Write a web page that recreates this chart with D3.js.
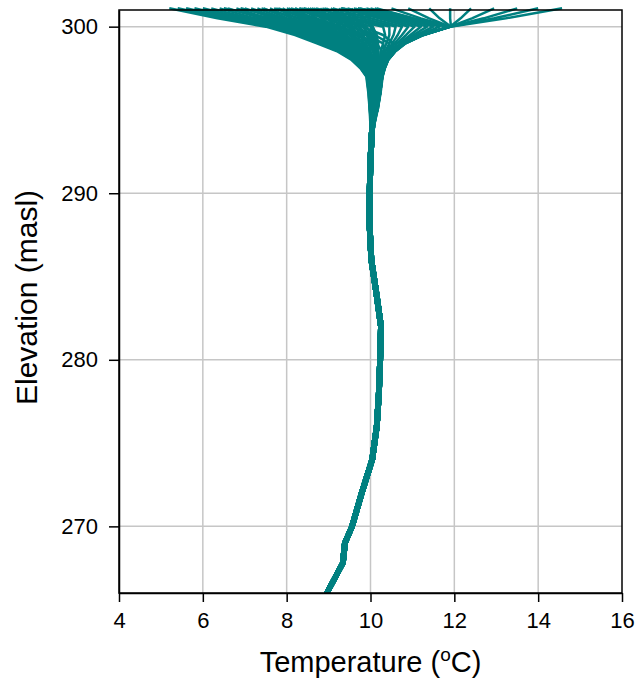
<!DOCTYPE html>
<html>
<head>
<meta charset="utf-8">
<script src="https://cdn.jsdelivr.net/npm/d3@7"></script>
<style>
  body { margin: 0; background: #fff; }
  text { font-family: "Liberation Sans", Arial, sans-serif; fill: #000; }
</style>
</head>
<body>
<div id="chart"></div>
<script>
// elevation levels (masl) for the upper, mixed part of each profile
const upperElev = [301.1, 300.5, 300, 299.5, 299, 298.5, 298, 297.5, 297, 296, 295];

// cold-surface profiles (left part of the fan)
const coldProfiles = [
  [5.2, 6.35, 7.5, 8.2, 8.72, 9.22, 9.55, 9.76, 9.9, 9.95, 9.98],
  [5.4, 6.5, 7.6, 8.28, 8.78, 9.26, 9.57, 9.77, 9.91, 9.96, 9.98],
  [5.6, 6.65, 7.7, 8.35, 8.83, 9.3, 9.6, 9.78, 9.92, 9.96, 9.99],
  [5.8, 6.8, 7.75, 8.4, 8.88, 9.33, 9.62, 9.8, 9.93, 9.97, 9.99],
  [6.0, 6.95, 7.85, 8.47, 8.93, 9.36, 9.64, 9.81, 9.94, 9.97, 10.0],
  [6.2, 7.1, 7.95, 8.55, 8.98, 9.4, 9.66, 9.83, 9.95, 9.98, 10.0],
  [6.4, 7.25, 8.05, 8.6, 9.03, 9.43, 9.68, 9.84, 9.96, 9.99, 10.01],
  [6.6, 7.4, 8.15, 8.68, 9.08, 9.46, 9.7, 9.86, 9.97, 10.0, 10.01],
  [6.8, 7.55, 8.25, 8.75, 9.13, 9.5, 9.72, 9.87, 9.98, 10.01, 10.02],
  [7.0, 7.7, 8.35, 8.82, 9.18, 9.53, 9.74, 9.88, 9.98, 10.02, 10.02],
  [7.15, 7.8, 8.42, 8.88, 9.22, 9.55, 9.76, 9.9, 9.99, 10.02, 10.03],
  [7.3, 7.92, 8.5, 8.94, 9.26, 9.58, 9.78, 9.91, 10.0, 10.03, 10.03],
  [7.45, 8.02, 8.58, 9.0, 9.3, 9.6, 9.8, 9.92, 10.0, 10.04, 10.04],
  [7.6, 8.13, 8.66, 9.06, 9.34, 9.63, 9.82, 9.93, 10.01, 10.04, 10.04],
  [7.75, 8.25, 8.74, 9.11, 9.38, 9.66, 9.84, 9.94, 10.02, 10.05, 10.05],
  [7.9, 8.37, 8.82, 9.16, 9.42, 9.68, 9.85, 9.95, 10.02, 10.05, 10.05],
  [8.05, 8.48, 8.9, 9.22, 9.46, 9.71, 9.87, 9.96, 10.03, 10.06, 10.05],
  [8.2, 8.6, 8.98, 9.27, 9.5, 9.73, 9.88, 9.97, 10.03, 10.06, 10.06],
  [8.35, 8.72, 9.06, 9.32, 9.54, 9.76, 9.9, 9.98, 10.04, 10.07, 10.06],
  [8.5, 8.83, 9.14, 9.38, 9.58, 9.78, 9.91, 9.99, 10.04, 10.07, 10.06],
  [8.65, 8.95, 9.22, 9.44, 9.62, 9.81, 9.93, 10.0, 10.05, 10.08, 10.07],
  [8.8, 9.06, 9.3, 9.5, 9.66, 9.83, 9.94, 10.01, 10.05, 10.08, 10.07],
  [8.95, 9.18, 9.38, 9.56, 9.7, 9.86, 9.96, 10.02, 10.06, 10.09, 10.07],
  [9.1, 9.3, 9.47, 9.62, 9.75, 9.88, 9.97, 10.03, 10.07, 10.09, 10.08],
  [9.25, 9.42, 9.56, 9.68, 9.8, 9.91, 9.99, 10.04, 10.07, 10.1, 10.08],
  [9.4, 9.54, 9.65, 9.75, 9.85, 9.94, 10.01, 10.05, 10.08, 10.1, 10.08],
  [9.55, 9.66, 9.75, 9.83, 9.9, 9.97, 10.03, 10.06, 10.09, 10.1, 10.08],
  [9.7, 9.78, 9.85, 9.92, 9.96, 10.0, 10.05, 10.08, 10.1, 10.1, 10.08]
];

// profiles that warm faster just below the surface
const midProfiles = [
  [6.5, 7.6, 8.5, 9.1, 9.5, 9.8, 9.97, 10.03, 10.05, 10.04, 10.03],
  [6.9, 7.9, 8.7, 9.3, 9.7, 9.95, 10.05, 10.08, 10.08, 10.06, 10.04],
  [7.7, 8.5, 9.1, 9.55, 9.85, 10.0, 10.08, 10.1, 10.1, 10.09, 10.06],
  [8.0, 8.7, 9.3, 9.7, 9.95, 10.06, 10.1, 10.12, 10.12, 10.1, 10.06],
  [8.3, 8.95, 9.45, 9.8, 10.0, 10.1, 10.13, 10.13, 10.13, 10.11, 10.07],
  [8.55, 9.1, 9.6, 9.9, 10.05, 10.12, 10.15, 10.15, 10.14, 10.11, 10.07],
  [8.85, 9.3, 9.7, 9.95, 10.08, 10.14, 10.16, 10.16, 10.15, 10.12, 10.07],
  [9.05, 9.45, 9.8, 10.0, 10.1, 10.15, 10.17, 10.17, 10.15, 10.12, 10.08],
  [9.35, 9.65, 9.9, 10.05, 10.12, 10.16, 10.18, 10.17, 10.16, 10.12, 10.08],
  [9.65, 9.85, 10.0, 10.1, 10.15, 10.18, 10.19, 10.18, 10.16, 10.13, 10.08],
  [9.85, 9.95, 10.05, 10.12, 10.16, 10.19, 10.2, 10.18, 10.17, 10.13, 10.08]
];

// profiles with a warmer layer just under the surface
const warmLayerProfiles = [
  [7.4, 8.3, 9.0, 9.7, 10.15, 10.28, 10.3, 10.28, 10.25, 10.18, 10.12],
  [7.8, 8.6, 9.2, 9.9, 10.3, 10.35, 10.33, 10.3, 10.26, 10.2, 10.14],
  [8.2, 8.9, 9.5, 10.1, 10.45, 10.42, 10.36, 10.31, 10.27, 10.2, 10.14],
  [8.6, 9.2, 9.8, 10.3, 10.55, 10.47, 10.38, 10.32, 10.27, 10.21, 10.15],
  [8.1, 9.0, 9.9, 10.05, 10.1, 10.12, 10.13, 10.13, 10.12, 10.1, 10.07],
  [8.3, 9.2, 10.05, 10.15, 10.18, 10.18, 10.18, 10.17, 10.15, 10.12, 10.08],
  [8.4, 9.4, 10.3, 10.35, 10.3, 10.25, 10.22, 10.2, 10.18, 10.15, 10.1],
  [8.7, 9.6, 10.45, 10.45, 10.38, 10.3, 10.25, 10.22, 10.2, 10.16, 10.11],
  [8.9, 9.8, 10.6, 10.55, 10.45, 10.35, 10.28, 10.24, 10.21, 10.17, 10.12],
  [9.1, 10.0, 10.75, 10.65, 10.52, 10.4, 10.31, 10.26, 10.22, 10.18, 10.12],
  [9.3, 10.2, 10.9, 10.75, 10.58, 10.44, 10.34, 10.28, 10.24, 10.19, 10.13],
  [9.45, 10.35, 11.05, 10.85, 10.64, 10.48, 10.36, 10.29, 10.25, 10.2, 10.14],
  [9.6, 10.5, 11.2, 10.95, 10.7, 10.52, 10.38, 10.3, 10.26, 10.2, 10.14],
  [9.75, 10.65, 11.35, 11.02, 10.73, 10.54, 10.39, 10.31, 10.26, 10.21, 10.15],
  [9.9, 10.8, 11.5, 11.1, 10.75, 10.55, 10.4, 10.32, 10.27, 10.21, 10.15],
  [10.0, 10.85, 11.65, 11.15, 10.78, 10.56, 10.41, 10.32, 10.27, 10.22, 10.15]
];

// warm-surface profiles meeting near 12 °C at 300 masl
const warmProfiles = [
  [9.3, 10.6, 11.88, 11.2, 10.78, 10.55, 10.39, 10.32, 10.26, 10.21, 10.15],
  [9.7, 10.8, 11.9, 11.21, 10.79, 10.55, 10.39, 10.32, 10.26, 10.21, 10.15],
  [10.1, 11.0, 11.9, 11.22, 10.8, 10.56, 10.4, 10.32, 10.27, 10.22, 10.15],
  [10.15, 11.02, 11.88, 11.2, 10.79, 10.56, 10.4, 10.32, 10.27, 10.22, 10.15],
  [10.5, 11.2, 11.9, 11.22, 10.8, 10.56, 10.4, 10.33, 10.27, 10.22, 10.16],
  [10.9, 11.4, 11.9, 11.23, 10.81, 10.57, 10.4, 10.33, 10.27, 10.22, 10.16],
  [11.4, 11.65, 11.92, 11.24, 10.81, 10.57, 10.41, 10.33, 10.27, 10.22, 10.16],
  [11.9, 11.9, 11.92, 11.25, 10.82, 10.57, 10.41, 10.33, 10.28, 10.23, 10.16],
  [12.4, 12.15, 11.9, 11.24, 10.81, 10.57, 10.41, 10.33, 10.28, 10.23, 10.16],
  [12.95, 12.42, 11.9, 11.25, 10.82, 10.58, 10.41, 10.33, 10.28, 10.23, 10.16],
  [13.5, 12.7, 11.9, 11.26, 10.83, 10.58, 10.42, 10.34, 10.28, 10.23, 10.17],
  [14.0, 12.95, 11.9, 11.26, 10.83, 10.58, 10.42, 10.34, 10.28, 10.23, 10.17],
  [14.57, 13.23, 11.9, 11.27, 10.84, 10.59, 10.42, 10.34, 10.29, 10.24, 10.17]
];

// deep, nearly identical part of every profile
const deepElev = [294, 292, 290, 288, 286, 284, 282, 280, 278, 276, 274, 272, 270, 269, 267.8, 266];
const deepTempsA = [10.0, 9.96, 9.94, 9.94, 9.98, 10.1, 10.21, 10.19, 10.16, 10.11, 10.0, 9.75, 9.52, 9.35, 9.3, 8.92];
const deepTempsB = [10.04, 10.0, 9.98, 9.98, 10.02, 10.14, 10.25, 10.23, 10.2, 10.15, 10.04, 9.79, 9.56, 9.39, 9.34, 8.96];
const deepTempsC = [10.08, 10.04, 10.02, 10.02, 10.06, 10.18, 10.29, 10.27, 10.24, 10.19, 10.08, 9.83, 9.6, 9.43, 9.38, 9.0];
const deepVariants = [deepTempsA, deepTempsB, deepTempsC];

const xTicks = [4, 6, 8, 10, 12, 14, 16];
const yTicks = [270, 280, 290, 300];

const W = 637, H = 683;
const margin = { top: 10, right: 15, bottom: 90, left: 119 };
const innerW = W - margin.left - margin.right;
const innerH = H - margin.top - margin.bottom;

const svg = d3.select("#chart").append("svg")
  .attr("width", W)
  .attr("height", H);

const g = svg.append("g").attr("transform", "translate(" + margin.left + "," + margin.top + ")");

const x = d3.scaleLinear().domain([4, 16]).range([0, innerW]);
const y = d3.scaleLinear().domain([266, 301]).range([innerH, 0]);

// grid
g.selectAll(".gx").data(xTicks.slice(1, -1)).join("line")
  .attr("x1", d => x(d)).attr("x2", d => x(d))
  .attr("y1", 0).attr("y2", innerH)
  .style("stroke", "#c6c6c6").style("stroke-width", 1.5);
g.selectAll(".gy").data(yTicks).join("line")
  .attr("x1", 0).attr("x2", innerW)
  .attr("y1", d => y(d)).attr("y2", d => y(d))
  .style("stroke", "#c6c6c6").style("stroke-width", 1.5);

// profiles
const profiles = coldProfiles.concat(midProfiles, warmLayerProfiles, warmProfiles).map((up, i) => {
  const deep = deepVariants[i % 3];
  const pts = up.map((t, j) => [t, upperElev[j]]);
  return pts.concat(deep.map((t, j) => [t, deepElev[j]]));
});

const line = d3.line().x(d => x(d[0])).y(d => y(d[1]));

g.selectAll(".profile").data(profiles).join("path")
  .attr("class", "profile")
  .attr("d", line)
  .style("fill", "none")
  .style("stroke", "#008080")
  .style("stroke-width", 2.5)
  .style("stroke-linejoin", "round");

// frame
g.append("rect")
  .attr("width", innerW).attr("height", innerH)
  .style("fill", "none").style("stroke", "#000").style("stroke-width", 1.5);

// axes
const xAxis = g.append("g")
  .attr("transform", "translate(0," + innerH + ")")
  .call(d3.axisBottom(x).tickValues(xTicks).tickSize(9).tickPadding(10).tickSizeOuter(0));
const yAxis = g.append("g")
  .call(d3.axisLeft(y).tickValues(yTicks).tickSize(10).tickPadding(11).tickSizeOuter(0));

[xAxis, yAxis].forEach(a => {
  a.select(".domain").style("stroke", "#000").style("stroke-width", 1.5);
  a.selectAll(".tick line").style("stroke", "#000").style("stroke-width", 1.5);
  a.selectAll(".tick text")
    .style("font-family", "'Liberation Sans', Arial, sans-serif")
    .style("font-size", "22px").attr("fill", "#000");
});

// axis titles
const xt = svg.append("text")
  .attr("x", margin.left + innerW / 2)
  .attr("y", 672)
  .attr("text-anchor", "middle")
  .style("font-size", "29px");
xt.append("tspan").text("Temperature (");
xt.append("tspan").attr("dy", -11).style("font-size", "19px").text("o");
xt.append("tspan").attr("dy", 11).text("C)");

svg.append("text")
  .attr("transform", "translate(37," + (margin.top + innerH / 2 - 4) + ") rotate(-90)")
  .attr("text-anchor", "middle")
  .style("font-size", "30px")
  .text("Elevation (masl)");
</script>
</body>
</html>
